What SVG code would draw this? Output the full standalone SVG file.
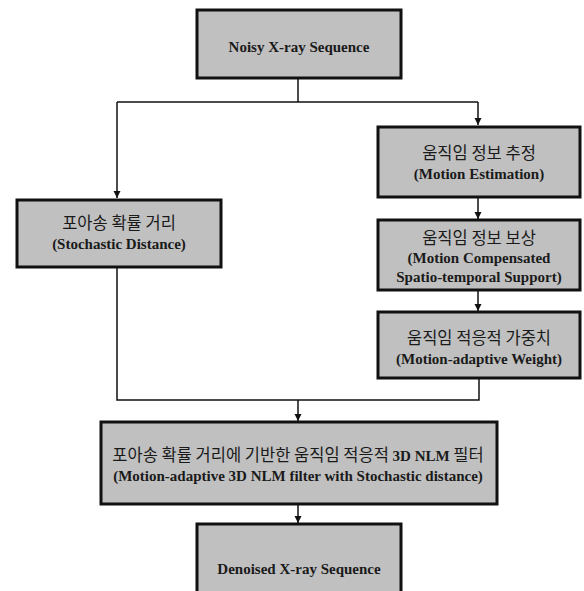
<svg xmlns="http://www.w3.org/2000/svg" width="584" height="591" viewBox="0 0 584 591">
<style>
.box{fill:#c0c0c0;stroke:#111;stroke-width:3}
.en{font-family:"Liberation Serif",serif;font-weight:bold;font-size:15px;fill:#1a1a1a;text-anchor:middle}
.ko{font-family:"Noto Sans CJK KR",sans-serif;font-size:16.5px;fill:#1a1a1a;text-anchor:middle}
.ln{fill:none;stroke:#111;stroke-width:1.5}
</style>
<defs>
<marker id="ah" markerWidth="8" markerHeight="8" refX="7" refY="4" orient="auto" markerUnits="userSpaceOnUse">
<path d="M0,0.5 L7,4 L0,7.5 Z" fill="#111"/>
</marker>
</defs>
<rect width="584" height="591" fill="#fff"/>
<g id="connectors">
<path class="ln" d="M298,78 V102"/>
<path class="ln" d="M117,102 H478"/>
<path class="ln" d="M117,102 V198" marker-end="url(#ah)"/>
<path class="ln" d="M478,102 V125" marker-end="url(#ah)"/>
<path class="ln" d="M478,197 V219" marker-end="url(#ah)"/>
<path class="ln" d="M478,290 V311" marker-end="url(#ah)"/>
<path class="ln" d="M117,267 V400 H479 V378"/>
<path class="ln" d="M298,400 V421" marker-end="url(#ah)"/>
<path class="ln" d="M298,504 V523" marker-end="url(#ah)"/>
</g>
<g id="noisy">
<rect class="box" x="197" y="10" width="204" height="68"/>
<text class="en" x="299" y="52">Noisy X-ray Sequence</text>
</g>
<g id="stochastic">
<rect class="box" x="17" y="200" width="204" height="67"/>
<text class="ko" x="119" y="229">포아송 확률 거리</text>
<text class="en" x="119" y="249">(Stochastic Distance)</text>
</g>
<g id="motion-estimation">
<rect class="box" x="378" y="127" width="202" height="70"/>
<text class="ko" x="479" y="159">움직임 정보 추정</text>
<text class="en" x="479" y="179">(Motion Estimation)</text>
</g>
<g id="motion-compensated">
<rect class="box" x="378" y="220" width="202" height="70"/>
<text class="ko" x="479" y="244">움직임 정보 보상</text>
<text class="en" x="479" y="263">(Motion Compensated</text>
<text class="en" x="479" y="282">Spatio-temporal Support)</text>
</g>
<g id="motion-weight">
<rect class="box" x="378" y="312" width="202" height="66"/>
<text class="ko" x="479" y="344">움직임 적응적 가중치</text>
<text class="en" x="479" y="364">(Motion-adaptive Weight)</text>
</g>
<g id="nlm-filter">
<rect class="box" x="101" y="422" width="396" height="82"/>
<text class="ko" x="298" y="461">포아송 확률 거리에 기반한 움직임 적응적 <tspan style="font-family:'Liberation Serif',serif;font-weight:bold;font-size:15px">3D NLM</tspan> 필터</text>
<text class="en" x="298" y="481">(Motion-adaptive 3D NLM filter with Stochastic distance)</text>
</g>
<g id="denoised">
<rect class="box" x="197" y="524" width="204" height="75"/>
<text class="en" x="299" y="574">Denoised X-ray Sequence</text>
</g>
</svg>
